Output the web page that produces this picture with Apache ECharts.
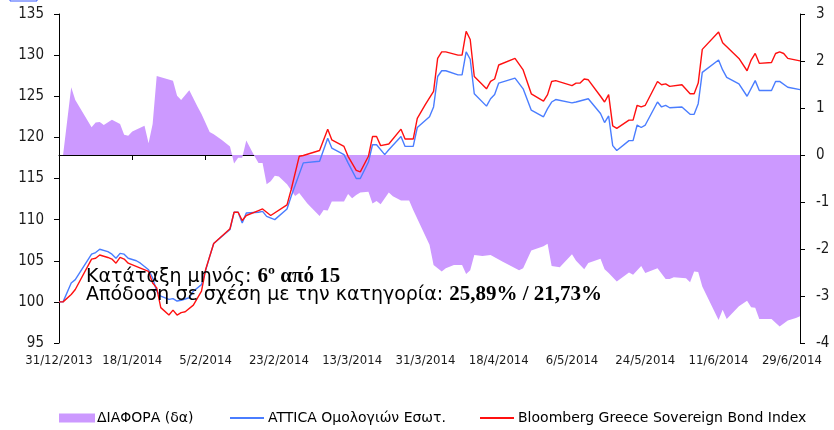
<!DOCTYPE html>
<html>
<head>
<meta charset="utf-8">
<script src="https://cdn.jsdelivr.net/npm/echarts@6/dist/echarts.min.js"></script>
<style>
  html, body { margin: 0; padding: 0; background: #fff; }
  #chart { width: 834px; height: 430px; }
</style>
</head>
<body>
<div id="chart"></div>
<script>
// ημερομηνίες d/m (12 = 2013, οι υπόλοιποι μήνες = 2014)
const attDates = ['31/12','1/1','3/1','4/1','8/1','9/1','10/1','12/1','13/1','14/1',
  '15/1','16/1','17/1','19/1','20/1','22/1','23/1','24/1','25/1','27/1',
  '28/1','29/1','30/1','1/2','2/2','4/2','6/2','7/2','11/2','12/2',
  '13/2','14/2','15/2','18/2','19/2','20/2','22/2','25/2','26/2','1/3',
  '5/3','7/3','8/3','11/3','12/3','14/3','15/3','17/3','18/3','19/3',
  '21/3','22/3','25/3','26/3','28/3','29/3','1/4','2/4','3/4','4/4',
  '5/4','8/4','9/4','10/4','11/4','12/4','15/4','16/4','17/4','18/4',
  '22/4','24/4','26/4','29/4','30/4','1/5','2/5','6/5','7/5','10/5',
  '13/5','14/5','15/5','16/5','17/5','20/5','21/5','22/5','23/5','24/5',
  '27/5','28/5','29/5','30/5','2/6','4/6','5/6','6/6','7/6','11/6',
  '12/6','13/6','16/6','18/6','20/6','21/6','24/6','25/6','26/6','28/6',
  '1/7'];
const attValues = [100.0,100.0,102.3,102.7,105.8,106.0,106.4,106.1,105.8,105.3,
  105.9,105.8,105.3,105.0,104.7,103.9,102.9,101.3,100.7,100.3,
  100.4,100.1,100.2,100.5,101.3,102.1,105.5,107.1,108.8,110.9,
  110.9,109.6,110.8,110.9,111.0,110.4,110.0,111.3,112.8,116.9,
  117.1,119.9,118.7,117.9,116.9,115.0,115.0,117.0,119.1,119.1,
  117.9,118.5,120.1,118.9,118.9,121.2,122.5,123.7,127.4,128.1,
  128.1,127.6,127.6,130.4,129.5,125.3,123.8,124.7,125.2,126.6,
  127.2,125.9,123.3,122.5,123.5,124.3,124.6,124.2,124.3,124.7,
  122.9,121.8,122.6,119.0,118.4,119.6,119.6,121.5,121.2,121.5,
  124.3,123.7,123.9,123.6,123.7,122.8,122.8,124.1,127.9,129.4,
  128.2,127.3,126.5,125.0,126.9,125.7,125.7,126.8,126.8,126.1,
  125.8];

const bbgDates = ['31/12','1/1','3/1','4/1','8/1','9/1','10/1','12/1','13/1','14/1',
  '15/1','16/1','17/1','20/1','22/1','23/1','24/1','25/1','27/1','28/1',
  '29/1','30/1','31/1','2/2','4/2','5/2','6/2','7/2','11/2','12/2',
  '13/2','14/2','15/2','18/2','19/2','21/2','25/2','26/2','28/2','1/3',
  '5/3','7/3','8/3','11/3','12/3','14/3','15/3','17/3','18/3','19/3',
  '20/3','22/3','25/3','26/3','28/3','29/3','31/3','2/4','3/4','4/4',
  '5/4','8/4','9/4','10/4','11/4','12/4','15/4','16/4','17/4','18/4',
  '22/4','24/4','26/4','29/4','30/4','1/5','2/5','6/5','7/5','8/5',
  '9/5','10/5','13/5','14/5','15/5','16/5','17/5','20/5','21/5','22/5',
  '23/5','24/5','27/5','28/5','29/5','30/5','2/6','4/6','5/6','6/6',
  '7/6','11/6','12/6','16/6','18/6','19/6','20/6','21/6','24/6','25/6',
  '26/6','27/6','28/6','1/7'];
const bbgValues = [100.0,100.0,100.9,101.5,105.2,105.3,105.7,105.4,105.2,104.7,
  105.4,105.2,104.7,104.1,103.7,102.3,101.7,99.3,98.4,99.0,
  98.4,98.7,98.8,99.6,101.3,103.9,105.5,107.1,108.9,110.9,
  110.9,109.9,110.5,111.1,111.3,110.5,111.8,113.6,117.7,117.8,
  118.4,121.0,119.7,118.9,117.7,116.0,115.8,117.7,120.1,120.1,
  119.0,119.2,121.0,119.8,119.8,122.3,124.0,125.6,129.6,130.4,
  130.4,130.0,130.0,132.9,131.9,127.4,125.9,126.8,127.1,128.8,
  129.6,128.2,125.3,124.4,125.2,126.8,126.9,126.3,126.6,126.6,
  127.1,127.0,125.0,124.3,125.2,121.4,121.1,122.1,122.1,123.9,
  123.7,123.9,126.8,126.4,126.5,126.2,126.4,125.3,125.3,126.6,
  130.7,132.8,131.5,129.6,128.1,129.4,130.2,129.0,129.1,130.2,
  130.4,130.2,129.6,129.3];

const diffDates = ['31/12','1/1','3/1','4/1','8/1','9/1','10/1','11/1','13/1','15/1',
  '16/1','17/1','18/1','21/1','22/1','23/1','24/1','28/1','29/1','30/1',
  '1/2','3/2','4/2','6/2','7/2','9/2','11/2','12/2','13/2','14/2',
  '15/2','17/2','18/2','19/2','20/2','21/2','22/2','23/2','25/2','27/2',
  '28/2','2/3','5/3','6/3','7/3','8/3','11/3','12/3','13/3','14/3',
  '15/3','17/3','18/3','19/3','20/3','22/3','23/3','25/3','27/3','28/3',
  '1/4','2/4','4/4','5/4','7/4','9/4','10/4','11/4','12/4','14/4',
  '16/4','19/4','23/4','24/4','26/4','29/4','30/4','1/5','3/5','6/5',
  '7/5','9/5','10/5','13/5','14/5','15/5','17/5','20/5','21/5','23/5',
  '24/5','27/5','29/5','30/5','31/5','3/6','4/6','5/6','6/6','7/6',
  '11/6','12/6','13/6','16/6','18/6','19/6','20/6','21/6','24/6','26/6',
  '28/6','30/6','1/7'];
const diffValues = [0,0,1.44,1.17,0.59,0.69,0.70,0.64,0.75,0.66,
  0.43,0.41,0.50,0.62,0.25,0.66,1.68,1.58,1.26,1.17,
  1.38,1.03,0.87,0.49,0.44,0.32,0.18,-0.18,-0.06,-0.06,
  0.31,-0.02,-0.17,-0.17,-0.62,-0.56,-0.44,-0.46,-0.62,-0.87,
  -0.81,-1.03,-1.30,-1.17,-1.18,-0.99,-0.99,-0.83,-0.92,-0.85,
  -0.80,-0.78,-1.03,-0.98,-1.05,-0.80,-0.88,-0.97,-0.97,-1.17,
  -1.91,-2.34,-2.48,-2.41,-2.34,-2.34,-2.53,-2.45,-2.13,-2.15,
  -2.13,-2.27,-2.45,-2.41,-2.03,-1.94,-1.89,-2.36,-2.39,-2.11,
  -2.25,-2.43,-2.30,-2.21,-2.43,-2.51,-2.69,-2.50,-2.55,-2.36,
  -2.51,-2.41,-2.64,-2.64,-2.60,-2.62,-2.71,-2.48,-2.49,-2.80,
  -3.51,-3.29,-3.49,-3.22,-3.10,-3.24,-3.25,-3.49,-3.49,-3.65,
  -3.52,-3.47,-3.43];

const xTickLabels = ['31/12/2013','18/1/2014','5/2/2014','23/2/2014','13/3/2014','31/3/2014',
  '18/4/2014','6/5/2014','24/5/2014','11/6/2014','29/6/2014'];
const seriesNames = ['ΔΙΑΦΟΡΑ (δα)', 'ATTICA Ομολογιών Εσωτ.', 'Bloomberg Greece Sovereign Bond Index'];

// μέρες από 31/12/2013
function dayIndex(s) {
  const p = s.split('/').map(Number);
  const y = p[1] === 12 ? 2013 : 2014;
  return (Date.UTC(y, p[1] - 1, p[0]) - Date.UTC(2013, 11, 31)) / 86400000;
}
function pairs(dates, values) {
  return dates.map((d, i) => [dayIndex(d), values[i]]);
}

const font = 'DejaVu Sans Condensed';
const legendText = { fontFamily: 'DejaVu Sans', fontSize: 14, color: '#000' };
const chart = echarts.init(document.getElementById('chart'), null, { renderer: 'canvas' });

const option = {
  animation: false,
  backgroundColor: '#fff',
  grid: { left: 59, right: 34, top: 14, bottom: 87 },
  xAxis: {
    type: 'value',
    min: 0,
    max: 182,
    interval: 18,
    axisLine: { lineStyle: { color: '#000', width: 1 } },
    axisTick: { length: 5, lineStyle: { color: '#000' } },
    splitLine: { show: false },
    axisLabel: {
      margin: 11,
      fontFamily: font,
      fontSize: 13,
      color: '#1a1a1a',
      showMaxLabel: false,
      formatter: function (v) {
        if (v % 18 !== 0) return '';
        return xTickLabels[v / 18] || '';
      }
    }
  },
  yAxis: [
    {
      type: 'value',
      min: 95,
      max: 135,
      interval: 5,
      axisLine: { show: true, lineStyle: { color: '#000', width: 1 } },
      axisTick: { show: true, length: 5, lineStyle: { color: '#000' } },
      splitLine: { show: false },
      axisLabel: { margin: 15, fontFamily: font, fontSize: 15, color: '#1a1a1a' }
    },
    {
      type: 'value',
      min: -4,
      max: 3,
      interval: 1,
      position: 'right',
      axisLine: { show: true, lineStyle: { color: '#000', width: 1 } },
      axisTick: { show: true, length: 5, lineStyle: { color: '#000' } },
      splitLine: { show: false },
      axisLabel: { margin: 16, fontFamily: font, fontSize: 15, color: '#1a1a1a' }
    }
  ],
  legend: [
    {
      data: [{ name: seriesNames[0], icon: 'rect' }],
      left: 59, top: 411, padding: 0,
      itemWidth: 36, itemHeight: 9,
      textStyle: Object.assign({ padding: [0, 0, 0, -3] }, legendText)
    },
    {
      data: [{ name: seriesNames[1], icon: 'rect' }],
      left: 230, top: 411, padding: 0,
      itemWidth: 34, itemHeight: 2,
      textStyle: Object.assign({ padding: [0, 0, 0, -1] }, legendText)
    },
    {
      data: [{ name: seriesNames[2], icon: 'rect' }],
      left: 480, top: 411, padding: 0,
      itemWidth: 34, itemHeight: 2,
      textStyle: Object.assign({ padding: [0, 0, 0, -1] }, legendText)
    }
  ],
  series: [
    {
      name: seriesNames[0],
      type: 'line',
      yAxisIndex: 1,
      symbol: 'none',
      color: '#CC99FF',
      lineStyle: { width: 0 },
      areaStyle: { color: '#CC99FF', opacity: 1 },
      z: 1,
      data: pairs(diffDates, diffValues)
    },
    {
      name: seriesNames[1],
      type: 'line',
      symbol: 'none',
      color: '#4a7dff',
      lineStyle: { width: 1.4, color: '#4a7dff' },
      z: 2,
      data: pairs(attDates, attValues)
    },
    {
      name: seriesNames[2],
      type: 'line',
      symbol: 'none',
      color: '#ff1010',
      lineStyle: { width: 1.4, color: '#ff1010' },
      z: 3,
      data: pairs(bbgDates, bbgValues)
    }
  ],
  graphic: [
    {
      type: 'rect',
      shape: { x: 10, y: -2, width: 27, height: 3 },
      style: { fill: 'none', stroke: '#3b5bff', lineWidth: 1 }
    },
    {
      type: 'text',
      x: 86, y: 277, z: 10,
      style: {
        text: '{r|Κατάταξη μηνός: }{b|6º από 15}',
        verticalAlign: 'middle',
        rich: {
          r: { fontFamily: 'DejaVu Sans', fontSize: 19, fill: '#000' },
          b: { fontFamily: 'Liberation Serif', fontWeight: 'bold', fontSize: 21, fill: '#000' }
        }
      }
    },
    {
      type: 'text',
      x: 86, y: 295, z: 10,
      style: {
        text: '{r|Απόδοση σε σχέση με την κατηγορία: }{b|25,89% / 21,73%}',
        verticalAlign: 'middle',
        rich: {
          r: { fontFamily: 'DejaVu Sans', fontSize: 19, fill: '#000' },
          b: { fontFamily: 'Liberation Serif', fontWeight: 'bold', fontSize: 21, fill: '#000' }
        }
      }
    }
  ]
};

chart.setOption(option);
</script>
</body>
</html>
